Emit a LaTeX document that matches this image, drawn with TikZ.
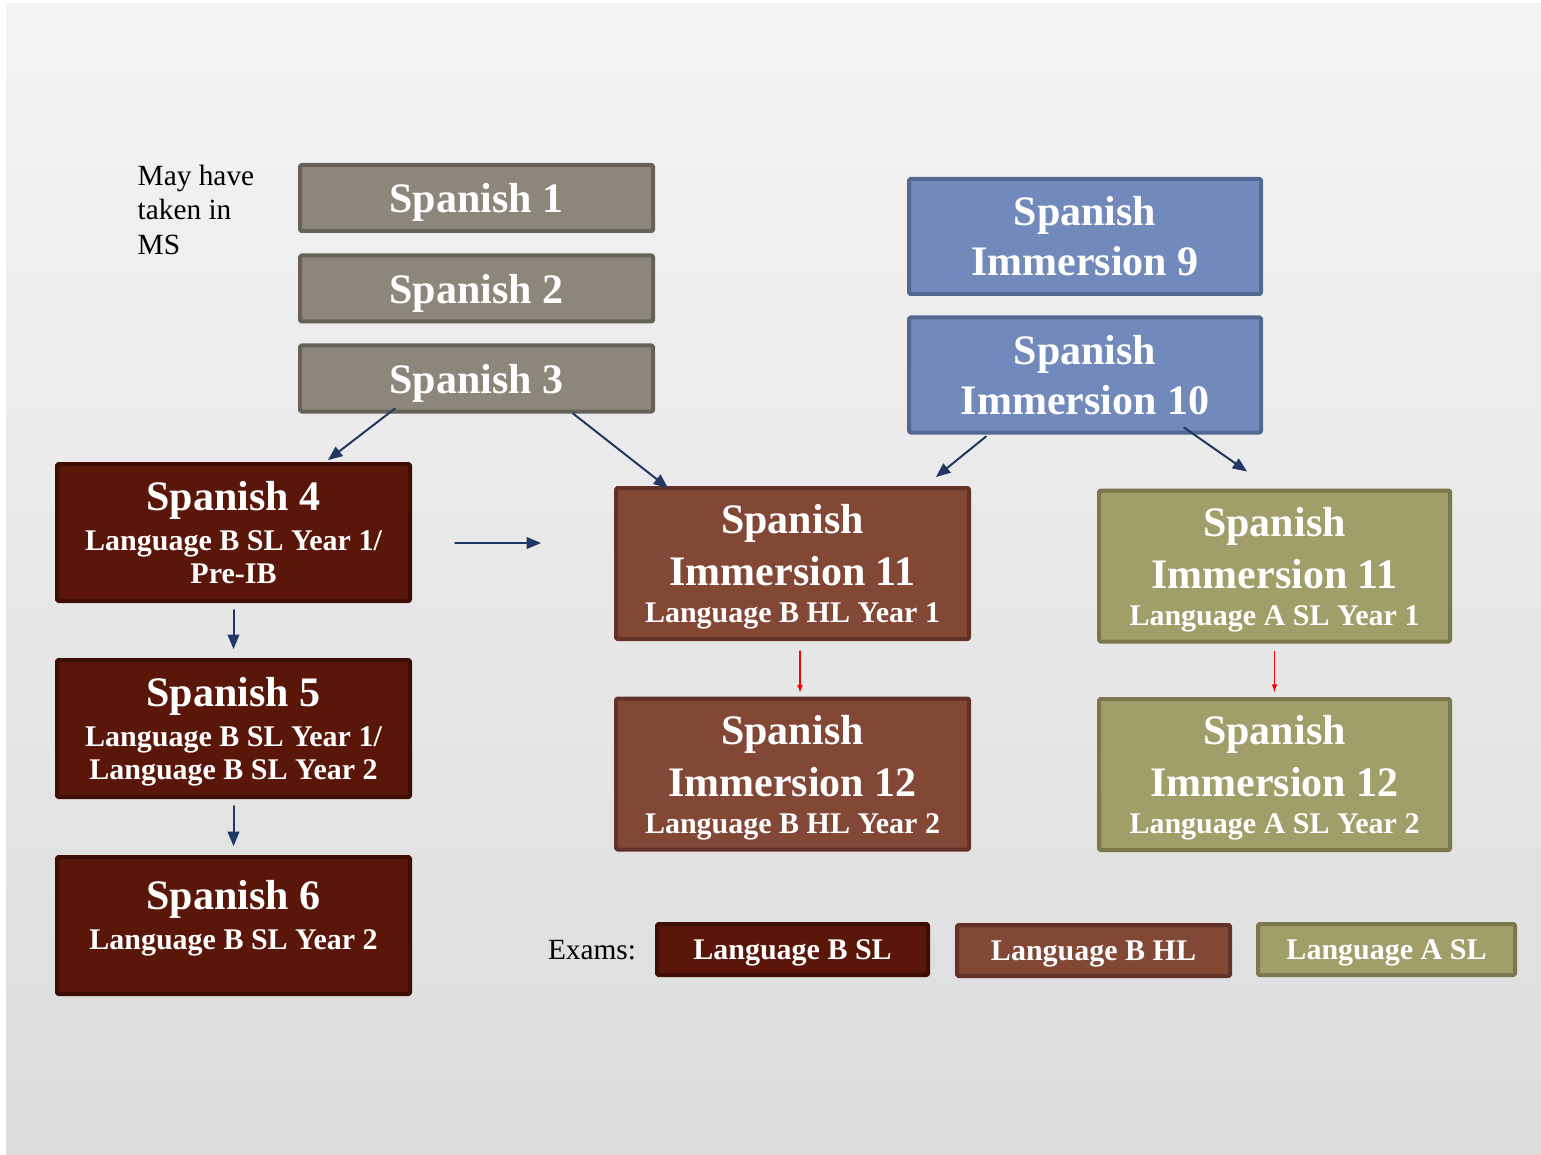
\documentclass[tikz,border=0pt]{standalone}
\usepackage{fontspec}
\setmainfont{Liberation Serif}
\usepackage{tikz}
\usetikzlibrary{arrows}
\usetikzlibrary{positioning}
\usetikzlibrary{calc}

\definecolor{GreyFill}{HTML}{8C877A}
\definecolor{GreyLine}{HTML}{666259}
\definecolor{BlueFill}{HTML}{718ABB}
\definecolor{BlueLine}{HTML}{526891}
\definecolor{MaroonFill}{HTML}{5A1608}
\definecolor{MaroonLine}{HTML}{3E0E04}
\definecolor{BrownFill}{HTML}{834736}
\definecolor{BrownLine}{HTML}{623228}
\definecolor{OliveFill}{HTML}{A09F6A}
\definecolor{OliveLine}{HTML}{7A794E}
\definecolor{ArrowBlue}{HTML}{1F3864}
\definecolor{BgTop}{HTML}{F4F4F4}
\definecolor{BgBottom}{HTML}{DCDCDC}

\newcommand{\bigfont}{\bfseries\fontsize{31.5}{37.5}\selectfont}
\newcommand{\subfont}{\fontsize{22.5}{30}\selectfont}

\tikzset{
  course/.style={draw,line width=3pt,rounded corners=1pt,text=white,align=center,
    font=\bigfont,inner sep=0pt,minimum width=264.75pt},
  greybox/.style={course,fill=GreyFill,draw=GreyLine,minimum height=49.5pt,text depth=0pt},
  bluebox/.style={course,fill=BlueFill,draw=BlueLine,minimum height=86.25pt,minimum width=264pt},
  sltrack/.style={course,fill=MaroonFill,draw=MaroonLine,minimum height=102.75pt,text depth=0pt},
  hltrack/.style={course,fill=BrownFill,draw=BrownLine,minimum height=113.25pt,text depth=0pt},
  asltrack/.style={course,fill=OliveFill,draw=OliveLine,minimum height=113.25pt,minimum width=263.25pt,text depth=0pt},
  exam/.style={draw,line width=3pt,rounded corners=1pt,text=white,font=\bfseries\subfont,
    inner sep=0pt,minimum height=38.25pt,text depth=0pt},
  arr/.style={->,line width=1.5pt,color=ArrowBlue},
  redarr/.style={-latex,line width=1pt,color=red}
}

\begin{document}
\begin{tikzpicture}[line cap=round,line join=round,>=triangle 45,x=0.75pt,y=-0.75pt]
\useasboundingbox (0,0) rectangle (1541,1155);
\fill[white] (0,0) rectangle (1541,1155);
\shade[top color=BgTop,bottom color=BgBottom] (6,4) rectangle (1541,1155);

\node[anchor=north west,align=left,font=\fontsize{22}{25.9}\selectfont] (ms) at (133,160) {May have\\taken in\\MS};

\node[greybox] (s1) at (476.5,198) {Spanish 1};
\node[greybox] (s2) at (476.5,288.5) {Spanish 2};
\node[greybox] (s3) at (476.5,378.5) {Spanish 3};

\node[bluebox] (i9) at (1085,236.5) {Spanish\\Immersion 9};
\node[bluebox] (i10) at (1085,375) {Spanish\\Immersion 10};

\node[sltrack] (s4) at (233.5,532.5) {Spanish 4\\[-7.5pt]{\subfont Language B SL  Year 1/}\\[-12.75pt]{\subfont Pre-IB}};
\node[sltrack] (s5) at (233.5,728.5) {Spanish 5\\[-7.5pt]{\subfont Language B SL  Year 1/}\\[-12.75pt]{\subfont Language B SL  Year 2}};
\node[sltrack] (s6) at (233.5,925.5) {Spanish 6\\[-7.5pt]{\subfont Language B SL  Year 2}\\[-21.75pt]{\subfont\strut}};

\node[hltrack] (i11b) at (792.5,563.5) {Spanish\\[1.5pt]Immersion 11\\[-9.75pt]{\subfont Language B HL Year 1}};
\node[hltrack] (i12b) at (792.5,774) {Spanish\\[1.5pt]Immersion 12\\[-9.75pt]{\subfont Language B HL Year 2}};

\node[asltrack] (i11a) at (1274.5,566) {Spanish\\[1.5pt]Immersion 11\\[-9.75pt]{\subfont Language A SL Year 1}};
\node[asltrack] (i12a) at (1274.5,774.5) {Spanish\\[1.5pt]Immersion 12\\[-9.75pt]{\subfont Language A SL Year 2}};

% exam key
\node[font=\fontsize{22}{26}\selectfont] (exams) at (592,950) {Exams:};
\node[exam,fill=MaroonFill,draw=MaroonLine,minimum width=203.25pt] (kbsl) at (792.5,949.5) {Language B SL};
\node[exam,fill=BrownFill,draw=BrownLine,minimum width=204.75pt] (kbhl) at (1093.5,950.5) {Language B HL};
\node[exam,fill=OliveFill,draw=OliveLine,minimum width=192.75pt] (kasl) at (1386.5,949.5) {Language A SL};

\coordinate (gapA) at (455,543);
\coordinate (gapB) at (541,543);

\draw[arr] ($(s3.south)+(-81.5,-5)$) -- ($(s4.north)+(94.5,-2)$);
\draw[arr] ($(s3.south)+(96.5,0)$) -- ($(i11b.north)+(-124.5,2)$);
\draw[arr] (gapA) -- (gapB);
\draw[arr] ($(s4.south)+(0,7)$) -- ($(s5.north)+(0,-9)$);
\draw[arr] ($(s5.south)+(0,7)$) -- ($(s6.north)+(0,-9)$);
\draw[arr] ($(i10.south)+(-99,2)$) -- ($(i11b.north)+(143.5,-9)$);
\draw[arr] ($(i10.south)+(99,-7)$) -- ($(i11a.north)+(-27.5,-17)$);

\draw[redarr] ($(i11b.south)+(7.5,10)$) -- ($(i12b.north)+(7.5,-4)$);
\draw[redarr] ($(i11a.south)+(0,8)$) -- ($(i12a.north)+(0,-5)$);

\end{tikzpicture}
\end{document}
